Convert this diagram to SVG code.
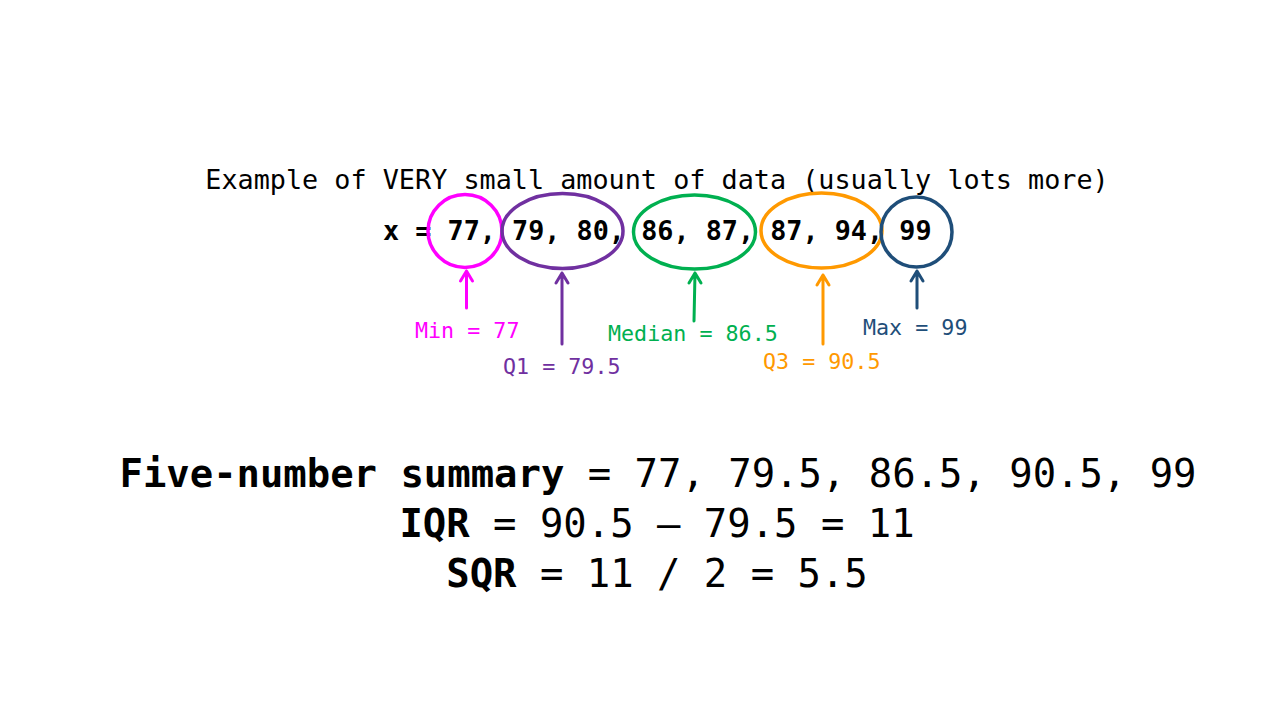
<svg xmlns="http://www.w3.org/2000/svg" width="1280" height="720" viewBox="0 0 1280 720">
<style>
.mono{font-family:"DejaVu Sans Mono","Liberation Mono",monospace;}
.title{font-size:26.8px;fill:#000;}
.data{font-size:26.8px;font-weight:bold;fill:#000;}
.lbl{font-size:21.7px;}
.big{font-size:38.9px;fill:#000;}
.ring{fill:none;stroke-width:3.5;}
.arr{fill:none;stroke-width:3;stroke-linecap:round;stroke-linejoin:round;}
</style>
<rect width="1280" height="720" fill="#fff"/>
<text id="title" class="mono title" x="657" y="189" text-anchor="middle">Example of VERY small amount of data (usually lots more)</text>
<text id="data" class="mono data" x="383" y="240" xml:space="preserve">x = 77, 79, 80, 86, 87, 87, 94, 99</text>
<g id="min">
<ellipse class="ring" cx="465" cy="231" rx="37" ry="36.5" stroke="#FF00FF"/>
<text class="mono lbl" x="415" y="338" fill="#FF00FF">Min = 77</text>
</g>
<g id="q1">
<ellipse class="ring" cx="562.5" cy="231" rx="60.5" ry="37.5" stroke="#7030A0"/>
<text class="mono lbl" x="503" y="374" fill="#7030A0">Q1 = 79.5</text>
</g>
<g id="median">
<ellipse class="ring" cx="694.5" cy="232" rx="61" ry="37" stroke="#00B050"/>
<text class="mono lbl" x="608" y="341" fill="#00B050">Median = 86.5</text>
</g>
<g id="q3">
<ellipse class="ring" cx="821.5" cy="230.5" rx="60.5" ry="37.5" stroke="#FF9900"/>
<text class="mono lbl" x="763" y="369" fill="#FF9900">Q3 = 90.5</text>
</g>
<g id="max">
<ellipse class="ring" cx="916.5" cy="232" rx="35.5" ry="35" stroke="#1F4E79"/>
<text class="mono lbl" x="863" y="335" fill="#1F4E79">Max = 99</text>
</g>
<g id="connectors">
<path class="arr" stroke="#FF00FF" d="M466.5,308 V271 M460.5,281 L466.5,271 L472.5,281"/>
<path class="arr" stroke="#7030A0" d="M562,344 V273 M556,283 L562,273 L568,283"/>
<path class="arr" stroke="#00B050" d="M694,321 L695,273 M689,283 L695,273 L701,283"/>
<path class="arr" stroke="#FF9900" d="M823,344 V275 M817,285 L823,275 L829,285"/>
<path class="arr" stroke="#1F4E79" d="M917,308 V271 M911,281 L917,271 L923,281"/>
</g>
<text id="summary" class="mono big" x="658" y="487" text-anchor="middle" xml:space="preserve"><tspan font-weight="bold">Five-number summary</tspan> = 77, 79.5, 86.5, 90.5, 99</text>
<text id="iqr" class="mono big" x="657" y="537" text-anchor="middle" xml:space="preserve"><tspan font-weight="bold">IQR</tspan> = 90.5 – 79.5 = 11</text>
<text id="sqr" class="mono big" x="657" y="587" text-anchor="middle" xml:space="preserve"><tspan font-weight="bold">SQR</tspan> = 11 / 2 = 5.5</text>
</svg>
